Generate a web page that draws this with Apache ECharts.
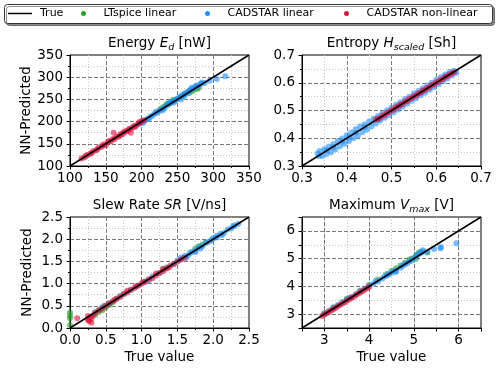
<!DOCTYPE html>
<html>
<head>
  <meta charset="UTF-8">
  <title>NN-Predicted vs True</title>
  <style>
    html, body { margin: 0; padding: 0; background: #fff; }
    #myChart { width: 500px; height: 368px; }
  </style>
</head>
<body>
  <div id="myChart"></div>
  <script src="https://cdn.jsdelivr.net/npm/echarts@6/dist/echarts.min.js"></script>
  <script>
    // --- data ---
    const seriesNames = ['LTspice linear', 'CADSTAR linear', 'CADSTAR non-linear'];
    const seriesColors = ['#2ca02c', '#1e90ff', '#dc143c'];
    const panelTitles = [
      'Energy {i|E}{s|d} [nW]',
      'Entropy {i|H}{s|scaled} [Sh]',
      'Slew Rate {i|SR} [V/ns]',
      'Maximum {i|V}{s|max} [V]'
    ];
    // [min, max, major step]
    const axisRanges = [[100, 350, 50], [0.3, 0.7, 0.1], [0, 2.5, 0.5], [2.5, 6.5, 1]];
    const labelDigits = [0, 1, 1, 0];

    const energyGreen = [[226,228],[230,233],[234,237],[238,240],[242,244],[246,247],[250,251],[255,256],[260,262],[265,266],[270,268],[274,272],[278,274],[280,276],[268,270],[244,249],[258,258],[236,241]];
    const energyBlue = [[196,194],[200,199],[204,202],[208,206],[212,211],[215,213],[218,217],[222,220],[225,224],[228,227],[232,231],[235,236],[238,239],[241,242],[244,246],[247,248],[250,252],[253,255],[256,259],[259,261],[262,265],[265,268],[268,271],[271,274],[274,277],[277,279],[280,282],[283,285],[288,287],[295,292],[305,296],[317,302],[210,206],[230,226],[245,243],[260,258],[270,276],[255,250],[220,222],[240,244],[266,264],[276,281],[284,288],[202,197]];
    const energyRed = [[116,117],[120,119],[124,125],[128,127],[132,133],[136,135],[140,141],[144,143],[148,149],[150,147],[153,154],[157,155],[160,161],[162,160],[165,166],[168,166],[171,172],[174,172],[177,178],[180,178],[183,184],[186,185],[189,190],[192,190],[195,196],[198,197],[201,202],[204,203],[161,175],[185,175],[130,129],[145,146],[175,176],[190,188],[122,123],[138,137],[155,157],[170,169],[182,181],[197,199]];

    const entropyGreen = [];
    const entropyBlue = [[0.335,0.346],[0.34,0.354],[0.345,0.336],[0.35,0.36],[0.355,0.343],[0.36,0.369],[0.365,0.35],[0.37,0.378],[0.375,0.36],[0.38,0.39],[0.385,0.371],[0.39,0.399],[0.395,0.38],[0.40,0.411],[0.405,0.39],[0.41,0.421],[0.415,0.4],[0.42,0.432],[0.425,0.41],[0.43,0.442],[0.435,0.422],[0.44,0.45],[0.445,0.431],[0.45,0.46],[0.455,0.442],[0.46,0.47],[0.465,0.453],[0.47,0.48],[0.475,0.464],[0.48,0.49],[0.485,0.474],[0.49,0.5],[0.495,0.484],[0.50,0.51],[0.505,0.494],[0.51,0.521],[0.515,0.504],[0.52,0.53],[0.525,0.514],[0.53,0.541],[0.535,0.524],[0.54,0.55],[0.545,0.535],[0.55,0.561],[0.555,0.544],[0.56,0.57],[0.565,0.555],[0.57,0.58],[0.575,0.564],[0.58,0.59],[0.585,0.575],[0.59,0.6],[0.595,0.584],[0.60,0.61],[0.605,0.595],[0.61,0.62],[0.615,0.605],[0.62,0.63],[0.625,0.615],[0.63,0.639],[0.635,0.626],[0.64,0.643],[0.645,0.636],[0.37,0.368],[0.42,0.42],[0.338,0.336],[0.39,0.388],[0.44,0.44],[0.47,0.468],[0.52,0.519],[0.57,0.571],[0.62,0.621],[0.355,0.357],[0.405,0.404]];
    const entropyRed = [[0.465,0.468],[0.47,0.47],[0.475,0.474],[0.48,0.482],[0.485,0.483],[0.49,0.492],[0.495,0.494],[0.50,0.502],[0.505,0.503],[0.51,0.512],[0.515,0.514],[0.52,0.522],[0.525,0.523],[0.53,0.532],[0.535,0.533],[0.54,0.542],[0.545,0.544],[0.55,0.552],[0.555,0.553],[0.56,0.562],[0.565,0.563],[0.57,0.572],[0.575,0.574],[0.58,0.582],[0.585,0.583],[0.59,0.592],[0.595,0.594],[0.60,0.602],[0.605,0.603],[0.61,0.612],[0.615,0.613],[0.62,0.622],[0.625,0.623],[0.63,0.631],[0.635,0.633],[0.64,0.638]];

    const slewGreen = [[0.0,0.35],[0.0,0.28],[0.0,0.22],[0.0,0.06],[0.35,0.3],[0.4,0.36],[0.45,0.4],[0.5,0.46],[0.55,0.52],[0.6,0.58],[0.48,0.5],[1.8,1.84],[1.85,1.88],[1.9,1.93],[1.3,1.33],[0.7,0.72],[0.42,0.41],[1.75,1.79]];
    const slewBlue = [[0.35,0.36],[0.45,0.47],[0.55,0.56],[0.65,0.66],[0.75,0.77],[0.85,0.86],[0.95,0.96],[1.05,1.05],[1.15,1.16],[1.25,1.24],[1.35,1.36],[1.45,1.44],[1.5,1.52],[1.55,1.54],[1.6,1.62],[1.65,1.64],[1.7,1.72],[1.75,1.74],[1.8,1.82],[1.85,1.84],[1.9,1.92],[1.95,1.95],[2.0,2.02],[2.05,2.04],[2.1,2.12],[2.15,2.14],[2.2,2.22],[2.25,2.24],[2.3,2.31],[2.35,2.34],[1.55,1.58],[1.75,1.71],[2.05,2.08],[1.1,1.07],[1.62,1.58],[1.68,1.69],[1.82,1.79],[1.98,1.99],[2.12,2.09],[2.28,2.29]];
    const slewRed = [[0.25,0.27],[0.26,0.2],[0.27,0.15],[0.28,0.24],[0.3,0.12],[0.3,0.22],[0.32,0.28],[0.25,0.18],[0.1,0.22],[0.35,0.33],[0.4,0.4],[0.45,0.44],[0.5,0.5],[0.55,0.56],[0.6,0.6],[0.65,0.66],[0.7,0.7],[0.75,0.76],[0.8,0.8],[0.85,0.86],[0.9,0.9],[0.95,0.95],[1.0,1.0],[1.05,1.04],[1.1,1.1],[1.15,1.12],[1.2,1.18],[1.25,1.24],[1.3,1.28],[1.35,1.34],[1.4,1.4],[1.45,1.44],[1.5,1.49],[1.55,1.54],[1.6,1.58],[1.2,1.23],[1.3,1.33],[0.8,0.84],[0.62,0.63],[0.92,0.94],[1.02,1.03],[1.38,1.36]];

    const vmaxGreen = [[3.0,3.03],[3.2,3.25],[3.5,3.55],[3.8,3.85],[4.0,4.06],[4.2,4.25],[4.4,4.45],[4.6,4.65],[4.8,4.85],[4.95,5.0],[5.05,5.12],[5.1,5.2],[5.15,5.25],[5.05,5.0],[5.3,5.22],[4.9,4.97],[4.5,4.56],[4.7,4.75]];
    const vmaxBlue = [[3.0,3.02],[3.1,3.12],[3.2,3.23],[3.3,3.33],[3.4,3.44],[3.5,3.52],[3.6,3.62],[3.7,3.72],[3.8,3.82],[3.9,3.92],[4.0,4.02],[4.1,4.1],[4.2,4.18],[4.3,4.28],[4.4,4.38],[4.5,4.48],[4.6,4.57],[4.7,4.67],[4.8,4.8],[4.9,4.9],[5.0,5.02],[5.05,5.08],[5.1,5.15],[5.15,5.2],[5.2,5.25],[5.2,5.3],[5.3,5.25],[5.45,5.35],[5.6,5.42],[5.6,5.37],[5.95,5.55],[4.6,4.52],[4.45,4.45],[4.85,4.83],[3.55,3.57],[4.15,4.2],[4.35,4.38],[4.55,4.55],[4.75,4.74],[4.95,4.93]];
    const vmaxRed = [[2.95,2.93],[3.0,2.98],[3.05,3.03],[3.1,3.08],[3.15,3.13],[3.2,3.18],[3.25,3.22],[3.3,3.28],[3.35,3.33],[3.4,3.38],[3.45,3.42],[3.5,3.48],[3.55,3.53],[3.6,3.58],[3.65,3.62],[3.7,3.68],[3.75,3.73],[3.8,3.78],[3.85,3.82],[3.9,3.88],[3.95,3.93],[4.0,3.98]];

    const panelData = [
      [energyGreen, energyBlue, energyRed],
      [entropyGreen, entropyBlue, entropyRed],
      [slewGreen, slewBlue, slewRed],
      [vmaxGreen, vmaxBlue, vmaxRed]
    ];

    // --- layout ---
    const font = 'DejaVu Sans';
    const gridPos = [[70, 55], [302, 55], [70, 217], [302, 217]];
    const gridW = 179, gridH = 111;
    const majorStyle = { color: '#7a7a7a', width: 1, type: [4, 2] };
    const minorStyle = { color: '#c4c4c4', width: 1, type: [1, 2] };

    function offGrid(i) {
      const [min, , step] = axisRanges[i];
      return Math.abs(Math.round(min / step) * step - min) > 1e-9;
    }

    function makeAxis(i, dim) {
      const [min, max, step] = axisRanges[i];
      const off = offGrid(i);
      const ax = {
        gridIndex: i,
        type: 'value',
        min, max,
        interval: off ? step / 2 : step,
        axisLine: { onZero: false, lineStyle: { color: '#000', width: 1 } },
        axisTick: { length: 3.5, lineStyle: { color: '#000' } },
        minorTick: { show: !off, splitNumber: 2, length: 2, lineStyle: { color: '#000' } },
        splitLine: { show: true, showMinLine: false, showMaxLine: false, lineStyle: off ? minorStyle : majorStyle },
        minorSplitLine: { show: !off, lineStyle: minorStyle },
        axisLabel: {
          color: '#000', fontSize: 13.5, fontFamily: font,
          margin: dim === 'x' ? 5 : 7,
          showMinLabel: true, showMaxLabel: true,
          formatter: v => {
            if (off) return Math.abs(v - Math.round(v)) < 1e-9 ? String(Math.round(v)) : '';
            return Number(v).toFixed(labelDigits[i]);
          }
        }
      };
      if (dim === 'y' && i % 2 === 0) {
        Object.assign(ax, {
          name: 'NN-Predicted', nameLocation: 'middle', nameGap: 36,
          nameTextStyle: { color: '#000', fontSize: 13.5, fontFamily: font }
        });
      }
      if (dim === 'x' && i >= 2) {
        Object.assign(ax, {
          name: 'True value', nameLocation: 'middle', nameGap: 22,
          nameTextStyle: { color: '#000', fontSize: 13.5, fontFamily: font }
        });
      }
      return ax;
    }

    const grid = gridPos.map(([l, t]) => ({
      left: l, top: t, width: gridW, height: gridH,
      show: true, borderColor: '#000', borderWidth: 1, backgroundColor: 'transparent'
    }));

    const series = [];
    panelData.forEach((sets, i) => {
      sets.forEach((pts, k) => {
        const s = {
          type: 'scatter', name: seriesNames[k],
          xAxisIndex: i, yAxisIndex: i,
          data: pts, symbolSize: 6, z: 2 + k,
          itemStyle: { color: seriesColors[k], opacity: 0.6 }
        };
        if (k === 0 && offGrid(i)) {
          const [min, max, step] = axisRanges[i];
          const ticks = [];
          for (let v = Math.ceil(min / step) * step; v < max; v += step) ticks.push(v);
          s.markLine = {
            silent: true, symbol: 'none', z: 1, animation: false,
            label: { show: false },
            lineStyle: majorStyle,
            data: ticks.map(v => ({ xAxis: v })).concat(ticks.map(v => ({ yAxis: v })))
          };
        }
        series.push(s);
      });
      const [min, max] = axisRanges[i];
      series.push({
        type: 'line', name: 'True', xAxisIndex: i, yAxisIndex: i,
        data: [[min, min], [max, max]],
        symbol: 'none', z: 6,
        lineStyle: { color: '#000', width: 1.5 },
        itemStyle: { color: '#000' }
      });
    });

    const richTitle = {
      i: { fontStyle: 'italic', fontSize: 13.5, fontFamily: font, fill: '#000' },
      s: { fontStyle: 'italic', fontSize: 9.5, fontFamily: font, lineHeight: 20, verticalAlign: 'bottom', fill: '#000' }
    };

    const graphic = [{
      type: 'rect', z: 0,
      shape: { x: 4.5, y: 4.5, width: 488, height: 19, r: 3 },
      style: { fill: '#fff', stroke: '#333', lineWidth: 1, shadowColor: 'rgba(0,0,0,0.45)', shadowOffsetX: 2, shadowOffsetY: 2, shadowBlur: 0 }
    }].concat(gridPos.map(([l, t], i) => ({
      type: 'text', z: 10,
      x: l + gridW / 2, y: t - 12,
      style: {
        text: panelTitles[i], rich: richTitle,
        fontSize: 13.5, fontFamily: font, fill: '#000',
        align: 'center', verticalAlign: 'middle'
      }
    })));

    const legendBase = {
      top: 8, padding: 0, selectedMode: false, z: 5,
      textStyle: { color: '#000', fontSize: 11, fontFamily: font }
    };
    const legend = [
      Object.assign({}, legendBase, { left: 8, itemWidth: 24, itemHeight: 1.5, data: [{ name: 'True', icon: 'rect' }], textStyle: Object.assign({}, legendBase.textStyle, { padding: [0, 0, 0, 3] }) }),
      Object.assign({}, legendBase, { left: 81, itemWidth: 30, itemHeight: 5, itemStyle: { opacity: 1 }, data: [{ name: seriesNames[0], icon: 'circle' }] }),
      Object.assign({}, legendBase, { left: 205, itemWidth: 30, itemHeight: 5, itemStyle: { opacity: 1 }, data: [{ name: seriesNames[1], icon: 'circle' }] }),
      Object.assign({}, legendBase, { left: 344, itemWidth: 30, itemHeight: 5, itemStyle: { opacity: 1 }, data: [{ name: seriesNames[2], icon: 'circle' }] })
    ];

    const myChart = echarts.init(document.getElementById('myChart'), null, { renderer: 'canvas' });
    myChart.setOption({
      animation: false,
      backgroundColor: '#fff',
      textStyle: { fontFamily: font },
      grid,
      xAxis: axisRanges.map((_, i) => makeAxis(i, 'x')),
      yAxis: axisRanges.map((_, i) => makeAxis(i, 'y')),
      legend,
      graphic,
      series
    });
  </script>
</body>
</html>
